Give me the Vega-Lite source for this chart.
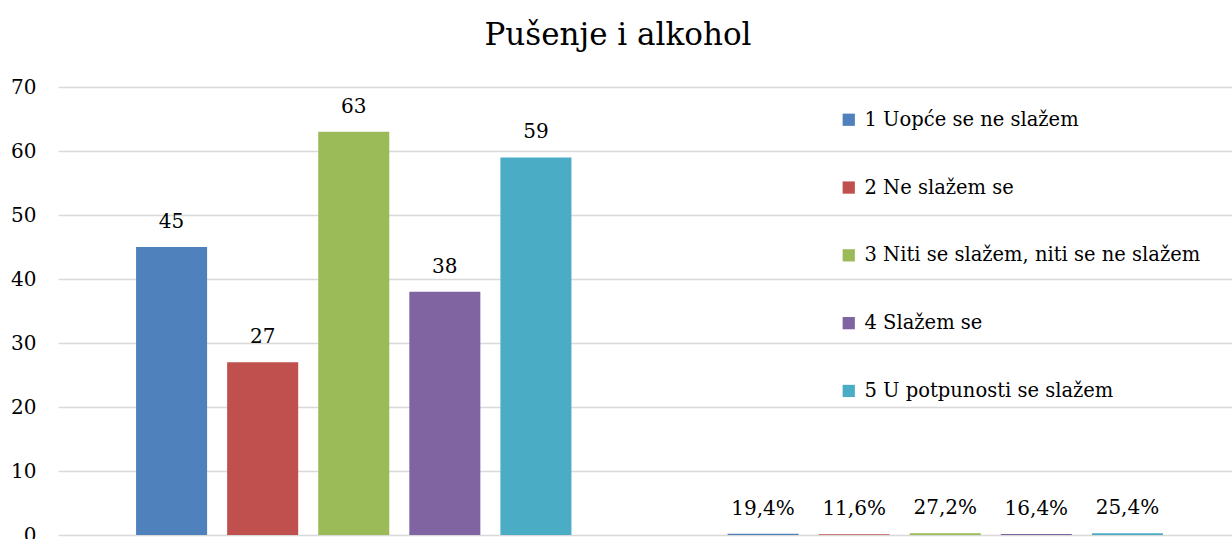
{
  "$schema": "https://vega.github.io/schema/vega-lite/v6.json",
  "width": 1174,
  "height": 448,
  "autosize": {"type": "none"},
  "padding": {"left": 58, "top": 87, "right": 0, "bottom": 4},
  "background": "white",
  "title": {
    "text": "Pušenje i alkohol",
    "font": "DejaVu Serif",
    "fontSize": 31,
    "fontWeight": "normal",
    "color": "#000000",
    "anchor": "middle",
    "dx": -27,
    "offset": 25
  },
  "config": {
    "view": {"stroke": null},
    "font": "DejaVu Serif"
  },
  "data": {
    "values": [
      {"group": "Broj", "cat": "1 Uopće se ne slažem", "value": 45, "label": "45"},
      {"group": "Broj", "cat": "2 Ne slažem se", "value": 27, "label": "27"},
      {"group": "Broj", "cat": "3 Niti se slažem, niti se ne slažem", "value": 63, "label": "63"},
      {"group": "Broj", "cat": "4 Slažem se", "value": 38, "label": "38"},
      {"group": "Broj", "cat": "5 U potpunosti se slažem", "value": 59, "label": "59"},
      {"group": "Postotak", "cat": "1 Uopće se ne slažem", "value": 0.194, "label": "19,4%"},
      {"group": "Postotak", "cat": "2 Ne slažem se", "value": 0.116, "label": "11,6%"},
      {"group": "Postotak", "cat": "3 Niti se slažem, niti se ne slažem", "value": 0.272, "label": "27,2%"},
      {"group": "Postotak", "cat": "4 Slažem se", "value": 0.164, "label": "16,4%"},
      {"group": "Postotak", "cat": "5 U potpunosti se slažem", "value": 0.254, "label": "25,4%"}
    ]
  },
  "encoding": {
    "x": {"field": "group", "type": "nominal", "axis": null, "scale": {"paddingInner": 0, "paddingOuter": 0, "range": [0, 1183]}},
    "xOffset": {"field": "cat", "type": "nominal", "scale": {"paddingInner": 0.22, "paddingOuter": 0.857}},
    "y": {
      "field": "value",
      "type": "quantitative",
      "scale": {"domain": [0, 70], "nice": false},
      "axis": {
        "title": null,
        "values": [0, 10, 20, 30, 40, 50, 60, 70],
        "domain": false,
        "ticks": false,
        "grid": true,
        "gridColor": "#D9D9D9",
        "gridWidth": 1.3,
        "labelFont": "DejaVu Serif",
        "labelFontSize": 20,
        "labelColor": "#000000",
        "labelPadding": 22
      }
    }
  },
  "layer": [
    {
      "mark": {"type": "bar"},
      "encoding": {
        "color": {
          "field": "cat",
          "type": "nominal",
          "scale": {
            "domain": ["1 Uopće se ne slažem", "2 Ne slažem se", "3 Niti se slažem, niti se ne slažem", "4 Slažem se", "5 U potpunosti se slažem"],
            "range": ["#4F81BD", "#C0504D", "#9BBB59", "#8064A2", "#4BACC6"]
          },
          "legend": {
            "title": null,
            "orient": "none",
            "legendX": 781,
            "legendY": 23,
            "padding": 0,
            "symbolType": "square",
            "symbolSize": 150,
            "symbolStrokeWidth": 0,
            "labelFont": "DejaVu Serif",
            "labelFontSize": 19.5,
            "labelColor": "#000000",
            "labelOffset": 6,
            "rowPadding": 46.8,
            "labelLimit": 500
          }
        }
      }
    },
    {
      "mark": {"type": "text", "baseline": "middle", "dy": -25, "font": "DejaVu Serif", "fontSize": 20, "color": "#000000"},
      "encoding": {
        "text": {"field": "label"}
      }
    }
  ]
}
